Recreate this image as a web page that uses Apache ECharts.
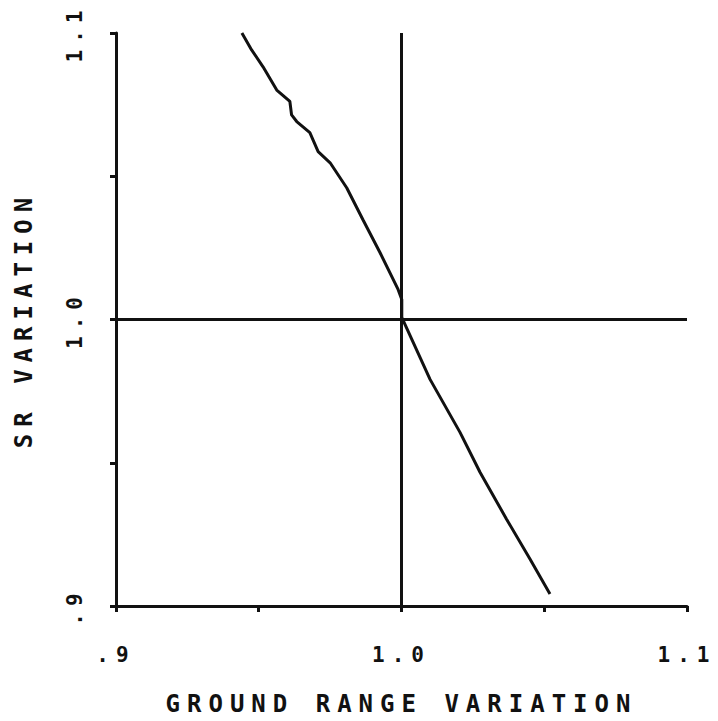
<!DOCTYPE html>
<html>
<head>
<meta charset="utf-8">
<script src="https://cdn.jsdelivr.net/npm/echarts@6/dist/echarts.min.js"></script>
<style>
  html, body { margin: 0; padding: 0; background: #fff; }
  #chart { width: 718px; height: 721px; }
  #chart text { letter-spacing: 7px; }
</style>
</head>
<body>
<div id="chart"></div>
<script>
// Curve: ground range variation (x) vs SR variation (y)
const groundRange = [0.9441, 0.9475, 0.9515, 0.9563, 0.9609, 0.9615, 0.9633, 0.9679, 0.9708, 0.9750, 0.9808, 0.9865, 0.9925, 0.9988, 1.0001, 1.0001, 1.0100, 1.0205, 1.0275, 1.0368, 1.0450, 1.0520];
const srVariation = [1.1000, 1.0941, 1.0882, 1.0801, 1.0761, 1.0714, 1.0691, 1.0652, 1.0586, 1.0547, 1.0460, 1.0348, 1.0233, 1.0105, 1.0070, 1.0007, 0.9791, 0.9606, 0.9467, 0.9303, 0.9164, 0.9042];

// Tick values (every 0.05) and the labels shown at labelled ticks
const tickValues = [0.9, 0.95, 1.0, 1.05, 1.1];
const tickLabels = ['.9', '', '1.0', '', '1.1'];

// Reference cross lines
const refX = 1.0;
const refY = 1.0;

const xTitle = 'GROUND RANGE VARIATION';
const yTitle = 'SR VARIATION';

function labelFor(v) {
  for (let i = 0; i < tickValues.length; i++) {
    if (Math.abs(v - tickValues[i]) < 1e-6) return tickLabels[i];
  }
  return '';
}

const curve = groundRange.map((x, i) => [x, srVariation[i]]);
const ink = '#111';
const font = '"DejaVu Sans Mono", monospace';

const chart = echarts.init(document.getElementById('chart'), null, { renderer: 'svg' });
chart.setOption({
  backgroundColor: '#fff',
  animation: false,
  grid: { left: 116, right: 31, top: 33, bottom: 114 },
  xAxis: {
    type: 'value',
    min: tickValues[0],
    max: tickValues[tickValues.length - 1],
    interval: 0.05,
    name: xTitle,
    nameLocation: 'middle',
    nameGap: 86,
    nameTextStyle: { color: ink, fontFamily: font, fontSize: 24, fontWeight: 'bold' },
    axisLine: { show: true, lineStyle: { color: ink, width: 3 } },
    axisTick: { show: true, length: 6, lineStyle: { color: ink, width: 3 } },
    splitLine: { show: false },
    axisLabel: {
      color: ink, fontFamily: font, fontSize: 21, fontWeight: 'bold', margin: 38,
      formatter: labelFor, showMinLabel: true, showMaxLabel: true
    }
  },
  yAxis: {
    type: 'value',
    min: tickValues[0],
    max: tickValues[tickValues.length - 1],
    interval: 0.05,
    name: yTitle,
    nameLocation: 'middle',
    nameGap: 80,
    nameRotate: 90,
    nameTextStyle: { color: ink, fontFamily: font, fontSize: 24, fontWeight: 'bold' },
    axisLine: { show: true, lineStyle: { color: ink, width: 3 } },
    axisTick: { show: true, length: 6, lineStyle: { color: ink, width: 3 } },
    splitLine: { show: false },
    axisLabel: {
      color: ink, fontFamily: font, fontSize: 21, fontWeight: 'bold', margin: 31, rotate: 90,
      formatter: labelFor, showMinLabel: true, showMaxLabel: true
    }
  },
  series: [{
    type: 'line',
    data: curve,
    showSymbol: false,
    symbol: 'none',
    smooth: false,
    lineStyle: { color: ink, width: 3 },
    markLine: {
      silent: true,
      symbol: 'none',
      label: { show: false },
      lineStyle: { color: ink, width: 3, type: 'solid' },
      data: [{ xAxis: refX }, { yAxis: refY }]
    }
  }]
});
</script>
</body>
</html>
